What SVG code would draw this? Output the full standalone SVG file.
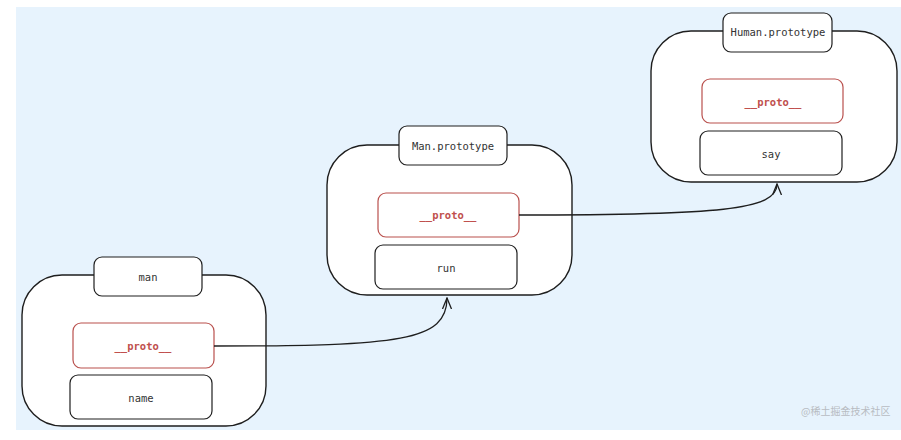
<svg xmlns="http://www.w3.org/2000/svg" width="901" height="440" viewBox="0 0 901 440">
<defs>
<style>
.outer{fill:#fff;stroke:#1e1e1e;stroke-width:1.4}
.box{fill:#fff;stroke:#1e1e1e;stroke-width:1.2}
.rbox{fill:#fff;stroke:#b9504d;stroke-width:1.2}
.t{font-family:"DejaVu Sans Mono","Liberation Mono",monospace;font-size:10.5px;fill:#333;text-anchor:middle;dominant-baseline:central}
.r{fill:#c0504d;font-weight:bold}
.conn{fill:none;stroke:#1e1e1e;stroke-width:1.3}
.wm{font-family:"Noto Sans CJK SC",sans-serif;font-size:10px;fill:#b8bcc2}
</style>
<marker id="arr" viewBox="0 0 12 12" refX="11" refY="6" markerWidth="12" markerHeight="12" markerUnits="userSpaceOnUse" orient="auto">
<path d="M0,1.5 L11,6 L0,10.5" fill="none" stroke="#1e1e1e" stroke-width="1.3"/>
</marker>
</defs>
<rect x="16" y="7" width="885" height="423" fill="#e7f3fd"/>
<g id="man">
<rect class="outer" x="22" y="275" width="244" height="151" rx="40"/>
<rect class="box" x="94" y="257" width="108" height="39" rx="8"/>
<text class="t" x="148" y="277">man</text>
<rect class="rbox" x="73" y="323" width="141" height="45" rx="8"/>
<text class="t r" x="143" y="346">__proto__</text>
<rect class="box" x="70" y="375" width="142" height="44" rx="8"/>
<text class="t" x="141" y="398">name</text>
</g>
<g id="man-prototype">
<rect class="outer" x="327" y="145" width="245" height="150" rx="40"/>
<rect class="box" x="399" y="126" width="108" height="39" rx="8"/>
<text class="t" x="453" y="146">Man.prototype</text>
<rect class="rbox" x="378" y="193" width="141" height="44" rx="8"/>
<text class="t r" x="448" y="215">__proto__</text>
<rect class="box" x="375" y="245" width="142" height="44" rx="8"/>
<text class="t" x="446" y="268">run</text>
</g>
<g id="human-prototype">
<rect class="outer" x="651" y="31" width="246" height="151" rx="40"/>
<rect class="box" x="723" y="13" width="109" height="39" rx="8"/>
<text class="t" x="778" y="32">Human.prototype</text>
<rect class="rbox" x="702" y="79" width="141" height="44" rx="8"/>
<text class="t r" x="773" y="102">__proto__</text>
<rect class="box" x="700" y="131" width="142" height="44" rx="8"/>
<text class="t" x="771" y="154">say</text>
</g>
<g id="connectors">
<path class="conn" d="M214,346 C400,346 447,341 447,298" marker-end="url(#arr)"/>
<path class="conn" d="M519,215 C720,215 777,210 777,184" marker-end="url(#arr)"/>
</g>
<text class="wm" x="801" y="415">@稀土掘金技术社区</text>
</svg>
